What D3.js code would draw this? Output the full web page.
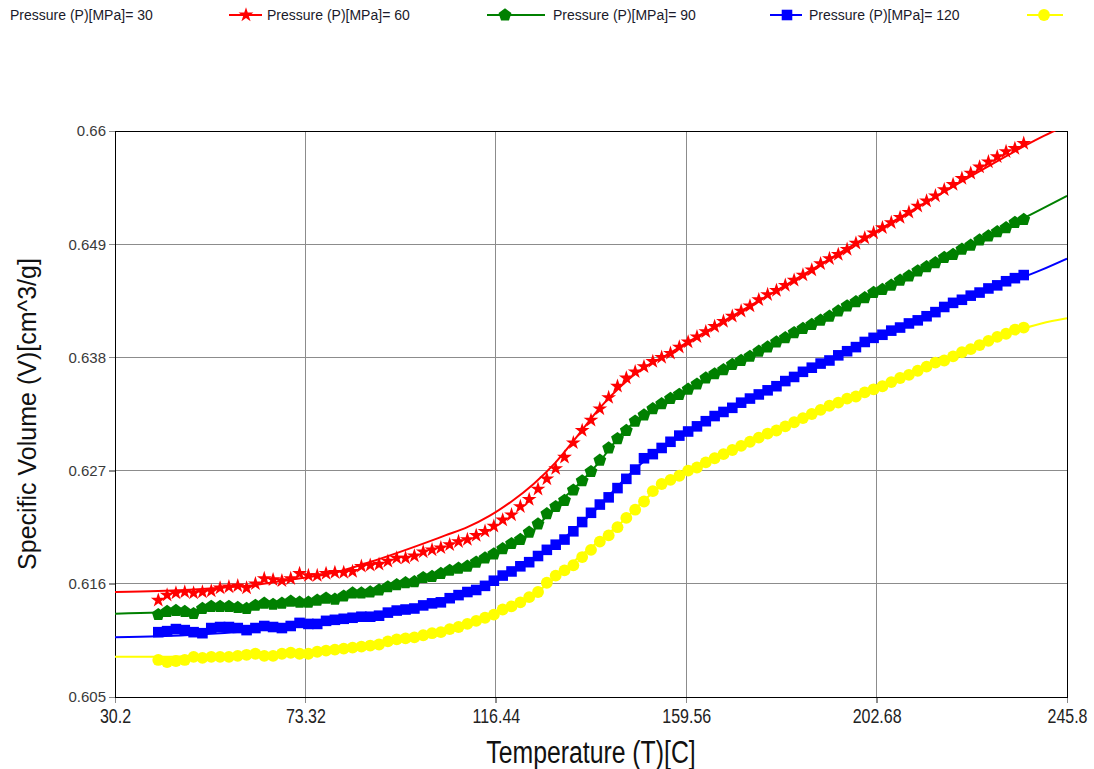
<!DOCTYPE html>
<html>
<head>
<meta charset="utf-8">
<script src="https://cdn.jsdelivr.net/npm/d3@7"></script>
<style>
  body { margin: 0; background: #fff; }
  text { font-family: "Liberation Sans", Arial, sans-serif; }
</style>
</head>
<body>
<script>
// 数据：压力系列、颜色、刻度
var pressures = [30, 60, 90, 120];
var seriesColors = ["#ff0000", "#008000", "#0000ff", "#ffff00"];
var seriesSymbols = ["star", "pentagon", "square", "circle"];

var xTicks = [30.2, 73.32, 116.44, 159.56, 202.68, 245.8];
var xTickLabels = ["30.2", "73.32", "116.44", "159.56", "202.68", "245.8"];
var yTicks = [0.605, 0.616, 0.627, 0.638, 0.649, 0.66];
var yTickLabels = ["0.605", "0.616", "0.627", "0.638", "0.649", "0.66"];

// 实测点的温度
var markerT = [40, 42, 44, 46, 48, 50, 52, 54, 56, 58, 60, 62, 64, 66, 68, 70, 72, 74, 76, 78,
  80, 82, 84, 86, 88, 90, 92, 94, 96, 98, 100, 102, 104, 106, 108, 110, 112, 114, 116, 118,
  120, 122, 124, 126, 128, 130, 132, 134, 136, 138, 140, 142, 144, 146, 148, 150, 152, 154, 156, 158,
  160, 162, 164, 166, 168, 170, 172, 174, 176, 178, 180, 182, 184, 186, 188, 190, 192, 194, 196, 198,
  200, 202, 204, 206, 208, 210, 212, 214, 216, 218, 220, 222, 224, 226, 228, 230, 232, 234, 236];

var markerV30 = [0.6144, 0.6149, 0.6151, 0.6152, 0.6151, 0.6152, 0.6153, 0.6156, 0.6157, 0.6158,
  0.6156, 0.6160, 0.6165, 0.6164, 0.6163, 0.6165, 0.6170, 0.6168, 0.6168, 0.6170,
  0.6171, 0.6171, 0.6172, 0.6177, 0.6178, 0.6179, 0.6182, 0.6185, 0.6185, 0.6187,
  0.6191, 0.6193, 0.6195, 0.6198, 0.6201, 0.6203, 0.6207, 0.6211, 0.6216, 0.6222,
  0.6227, 0.6235, 0.6242, 0.6252, 0.6262, 0.6272, 0.6283, 0.6297, 0.6309, 0.6319,
  0.6330, 0.6341, 0.6352, 0.6360, 0.6366, 0.6371, 0.6376, 0.6380, 0.6384, 0.6390,
  0.6395, 0.6400, 0.6405, 0.6410, 0.6415, 0.6420, 0.6425, 0.6430, 0.6436, 0.6441,
  0.6445, 0.6450, 0.6455, 0.6460, 0.6465, 0.6471, 0.6476, 0.6480, 0.6485, 0.6491,
  0.6496, 0.6501, 0.6506, 0.6511, 0.6516, 0.6521, 0.6527, 0.6532, 0.6537, 0.6543,
  0.6548, 0.6554, 0.6559, 0.6565, 0.6570, 0.6575, 0.6580, 0.6583, 0.6588];

var markerV60 = [0.6130, 0.6133, 0.6134, 0.6133, 0.6131, 0.6136, 0.6138, 0.6138, 0.6138, 0.6137,
  0.6136, 0.6139, 0.6141, 0.6140, 0.6141, 0.6143, 0.6142, 0.6142, 0.6144, 0.6146,
  0.6145, 0.6148, 0.6151, 0.6151, 0.6152, 0.6154, 0.6157, 0.6159, 0.6161, 0.6162,
  0.6166, 0.6167, 0.6170, 0.6173, 0.6175, 0.6177, 0.6181, 0.6185, 0.6189, 0.6194,
  0.6199, 0.6203, 0.6210, 0.6218, 0.6228, 0.6235, 0.6241, 0.6251, 0.6260, 0.6269,
  0.6280, 0.6292, 0.6301, 0.6309, 0.6318, 0.6324, 0.6330, 0.6335, 0.6340, 0.6344,
  0.6349, 0.6354, 0.6360, 0.6364, 0.6368, 0.6373, 0.6377, 0.6381, 0.6386, 0.6390,
  0.6395, 0.6399, 0.6404, 0.6408, 0.6412, 0.6416, 0.6420, 0.6425, 0.6430, 0.6434,
  0.6438, 0.6443, 0.6446, 0.6450, 0.6455, 0.6459, 0.6464, 0.6468, 0.6472, 0.6477,
  0.6480, 0.6485, 0.6489, 0.6494, 0.6498, 0.6502, 0.6506, 0.6511, 0.6514];

var markerV90 = [0.6113, 0.6114, 0.6116, 0.6115, 0.6113, 0.6112, 0.6117, 0.6118, 0.6118, 0.6117,
  0.6115, 0.6117, 0.6119, 0.6118, 0.6117, 0.6119, 0.6122, 0.6121, 0.6121, 0.6124,
  0.6125, 0.6126, 0.6127, 0.6128, 0.6128, 0.6129, 0.6132, 0.6134, 0.6135, 0.6136,
  0.6139, 0.6141, 0.6142, 0.6146, 0.6149, 0.6152, 0.6154, 0.6158, 0.6163, 0.6168,
  0.6172, 0.6177, 0.6181, 0.6187, 0.6193, 0.6198, 0.6203, 0.6211, 0.6220, 0.6229,
  0.6237, 0.6244, 0.6253, 0.6262, 0.6271, 0.6282, 0.6286, 0.6292, 0.6298, 0.6304,
  0.6308, 0.6313, 0.6318, 0.6323, 0.6327, 0.6331, 0.6336, 0.6340, 0.6344, 0.6348,
  0.6352, 0.6357, 0.6361, 0.6366, 0.6370, 0.6374, 0.6377, 0.6382, 0.6386, 0.6390,
  0.6395, 0.6399, 0.6402, 0.6406, 0.6409, 0.6413, 0.6416, 0.6420, 0.6424, 0.6429,
  0.6433, 0.6436, 0.6440, 0.6443, 0.6447, 0.6450, 0.6454, 0.6457, 0.6460];

var markerV120 = [0.6086, 0.6084, 0.6085, 0.6086, 0.6089, 0.6088, 0.6089, 0.6089, 0.6089, 0.6090,
  0.6091, 0.6092, 0.6090, 0.6090, 0.6092, 0.6093, 0.6092, 0.6092, 0.6094, 0.6095,
  0.6096, 0.6097, 0.6098, 0.6099, 0.6100, 0.6101, 0.6104, 0.6106, 0.6107, 0.6108,
  0.6110, 0.6112, 0.6113, 0.6116, 0.6118, 0.6121, 0.6124, 0.6127, 0.6130, 0.6135,
  0.6138, 0.6142, 0.6147, 0.6152, 0.6161, 0.6168, 0.6173, 0.6178, 0.6186, 0.6193,
  0.6201, 0.6207, 0.6215, 0.6224, 0.6232, 0.6240, 0.6250, 0.6257, 0.6261, 0.6265,
  0.6270, 0.6273, 0.6278, 0.6282, 0.6286, 0.6290, 0.6294, 0.6298, 0.6302, 0.6306,
  0.6309, 0.6313, 0.6317, 0.6321, 0.6325, 0.6329, 0.6333, 0.6336, 0.6340, 0.6342,
  0.6346, 0.6349, 0.6352, 0.6356, 0.6360, 0.6363, 0.6367, 0.6371, 0.6375, 0.6377,
  0.6381, 0.6385, 0.6388, 0.6392, 0.6396, 0.6400, 0.6403, 0.6407, 0.6409];

// 拟合曲线
var curveT = [30.2, 40, 50, 60, 70, 80, 90, 100, 105, 110, 115, 120, 125, 130, 135,
  140, 145, 150, 155, 160, 170, 180, 200, 220, 240, 245.8];
var curveV30 = [0.6152, 0.6153, 0.6155, 0.6158, 0.6164, 0.6171, 0.6184, 0.6199, 0.6207, 0.6215,
  0.6226, 0.6240, 0.6257, 0.6278, 0.6304, 0.6331, 0.6353, 0.6370, 0.6382, 0.6395,
  0.6420, 0.6445, 0.6496, 0.6546, 0.6594, 0.6606];
var curveV60 = [0.6131, 0.6132, 0.6135, 0.6137, 0.6141, 0.6146, 0.6153, 0.6164, 0.6170, 0.6177,
  0.6186, 0.6198, 0.6212, 0.6236, 0.6256, 0.6279, 0.6306, 0.6324, 0.6337, 0.6348,
  0.6373, 0.6395, 0.6438, 0.6481, 0.6524, 0.6537];
var curveV90 = [0.6108, 0.6109, 0.6111, 0.6114, 0.6118, 0.6124, 0.6130, 0.6138, 0.6144, 0.6151,
  0.6160, 0.6171, 0.6184, 0.6198, 0.6216, 0.6236, 0.6259, 0.6279, 0.6295, 0.6308,
  0.6331, 0.6352, 0.6394, 0.6433, 0.6465, 0.6476];
var curveV120 = [0.6089, 0.6089, 0.6090, 0.6091, 0.6093, 0.6096, 0.6101, 0.6109, 0.6114, 0.6121,
  0.6129, 0.6138, 0.6150, 0.6166, 0.6185, 0.6202, 0.6220, 0.6241, 0.6259, 0.6271,
  0.6290, 0.6308, 0.6345, 0.6382, 0.6413, 0.6418];

var markerSets = [markerV30, markerV60, markerV90, markerV120];
var curveSets = [curveV30, curveV60, curveV90, curveV120];

// 画布与绘图区（注意 top 是 window 的保留属性，换个名字）
var w = 1094, h = 769;
var plotLeft = 115, plotTop = 131, plotRight = 1067, plotBottom = 697;

var svg = d3.select("body").append("svg").attr("width", w).attr("height", h);

var xScale = d3.scaleLinear().domain([30.2, 245.8]).range([plotLeft, plotRight]);
var yScale = d3.scaleLinear().domain([0.605, 0.66]).range([plotBottom, plotTop]);

// 五边形符号（d3 没有自带）
var symbolPentagon = {
  draw: function (ctx, size) {
    var r = Math.sqrt(size / 2.378);
    for (var i = 0; i < 5; i++) {
      var a = -Math.PI / 2 + i * 2 * Math.PI / 5;
      if (i === 0) ctx.moveTo(r * Math.cos(a), r * Math.sin(a));
      else ctx.lineTo(r * Math.cos(a), r * Math.sin(a));
    }
    ctx.closePath();
  }
};
var symbolTypes = {
  star: [d3.symbolStar, 68],
  pentagon: [symbolPentagon, 108],
  square: [d3.symbolSquare, 112],
  circle: [d3.symbolCircle, 110]
};
function symbolPath(name) {
  return d3.symbol().type(symbolTypes[name][0]).size(symbolTypes[name][1])();
}

// 网格线
svg.append("g").selectAll("line").data(xTicks.slice(1, -1)).enter().append("line")
  .attr("x1", function (d) { return xScale(d); }).attr("x2", function (d) { return xScale(d); })
  .attr("y1", plotTop).attr("y2", plotBottom + 6)
  .attr("stroke", "#8c8c8c").attr("stroke-width", 1).attr("shape-rendering", "crispEdges");
svg.append("g").selectAll("line").data(yTicks.slice(1, -1)).enter().append("line")
  .attr("x1", plotLeft - 6).attr("x2", plotRight)
  .attr("y1", function (d) { return yScale(d); }).attr("y2", function (d) { return yScale(d); })
  .attr("stroke", "#8c8c8c").attr("stroke-width", 1).attr("shape-rendering", "crispEdges");

// 坐标轴
var xAxis = d3.axisBottom(xScale).tickValues(xTicks)
  .tickFormat(function (d, i) { return xTickLabels[i]; }).tickSize(6).tickPadding(6);
var gx = svg.append("g").attr("transform", "translate(0," + plotBottom + ")").call(xAxis);
gx.select(".domain").attr("stroke", "#000").attr("shape-rendering", "crispEdges");
gx.selectAll(".tick line").attr("stroke", "#8c8c8c").attr("shape-rendering", "crispEdges");
gx.selectAll(".tick text")
  .attr("font-family", "'Liberation Sans', Arial, sans-serif")
  .attr("font-size", 20).attr("fill", "#222")
  .attr("transform", "scale(0.8,1)");

var yAxis = d3.axisLeft(yScale).tickValues(yTicks)
  .tickFormat(function (d, i) { return yTickLabels[i]; }).tickSize(6).tickPadding(3);
var gy = svg.append("g").attr("transform", "translate(" + plotLeft + ",0)").call(yAxis);
gy.select(".domain").attr("stroke", "#000").attr("shape-rendering", "crispEdges");
gy.selectAll(".tick line").attr("stroke", "#8c8c8c").attr("shape-rendering", "crispEdges");
gy.selectAll(".tick text")
  .attr("font-family", "'Liberation Sans', Arial, sans-serif")
  .attr("font-size", 15).attr("fill", "#3a3a3a");

// 上、右边框
svg.append("rect").attr("x", plotLeft).attr("y", plotTop)
  .attr("width", plotRight - plotLeft).attr("height", plotBottom - plotTop)
  .attr("fill", "none").attr("stroke", "#000").attr("shape-rendering", "crispEdges");

// 裁剪区
svg.append("clipPath").attr("id", "plotClip").append("rect")
  .attr("x", plotLeft).attr("y", plotTop)
  .attr("width", plotRight - plotLeft).attr("height", plotBottom - plotTop);

var plot = svg.append("g").attr("clip-path", "url(#plotClip)");

var line = d3.line()
  .x(function (d) { return xScale(d[0]); })
  .y(function (d) { return yScale(d[1]); })
  .curve(d3.curveMonotoneX);

pressures.forEach(function (p, k) {
  var pts = curveT.map(function (t, i) { return [t, curveSets[k][i]]; });
  plot.append("path").attr("d", line(pts))
    .attr("fill", "none").attr("stroke", seriesColors[k]).attr("stroke-width", 2);
});

pressures.forEach(function (p, k) {
  var pts = markerT.map(function (t, i) { return [t, markerSets[k][i]]; });
  plot.append("g").selectAll("path").data(pts).enter().append("path")
    .attr("d", symbolPath(seriesSymbols[k]))
    .attr("transform", function (d) { return "translate(" + xScale(d[0]) + "," + yScale(d[1]) + ")"; })
    .attr("fill", seriesColors[k]);
});

// 轴标题
svg.append("text")
  .attr("transform", "translate(" + ((plotLeft + plotRight) / 2) + ",752) scale(0.8,1)")
  .attr("text-anchor", "middle").attr("dy", "0.35em")
  .attr("font-size", 31).attr("fill", "#111")
  .text("Temperature (T)[C]");

svg.append("text")
  .attr("transform", "translate(27," + ((plotTop + plotBottom) / 2) + ") rotate(-90)")
  .attr("text-anchor", "middle").attr("dy", "0.35em")
  .attr("font-size", 25).attr("fill", "#111")
  .text("Specific Volume (V)[cm^3/g]");

// 图例（文字在前，符号在后）
var legendTextX = [10, 267, 553, 809];
var legendLineX = [[229, 262], [487, 545], [770, 802], [1027, 1063]];
var legendMarkX = [246, 505, 787, 1044];
var legendY = 15;
var legend = svg.append("g");
pressures.forEach(function (p, k) {
  legend.append("text").attr("x", legendTextX[k]).attr("y", legendY).attr("dy", "0.35em")
    .attr("font-size", 14).attr("fill", "#1a1a2a")
    .text("Pressure (P)[MPa]= " + p);
  legend.append("line")
    .attr("x1", legendLineX[k][0]).attr("x2", legendLineX[k][1])
    .attr("y1", legendY).attr("y2", legendY)
    .attr("stroke", seriesColors[k]).attr("stroke-width", 2);
  legend.append("path").attr("d", symbolPath(seriesSymbols[k]))
    .attr("transform", "translate(" + legendMarkX[k] + "," + legendY + ")")
    .attr("fill", seriesColors[k]);
});
</script>
</body>
</html>
